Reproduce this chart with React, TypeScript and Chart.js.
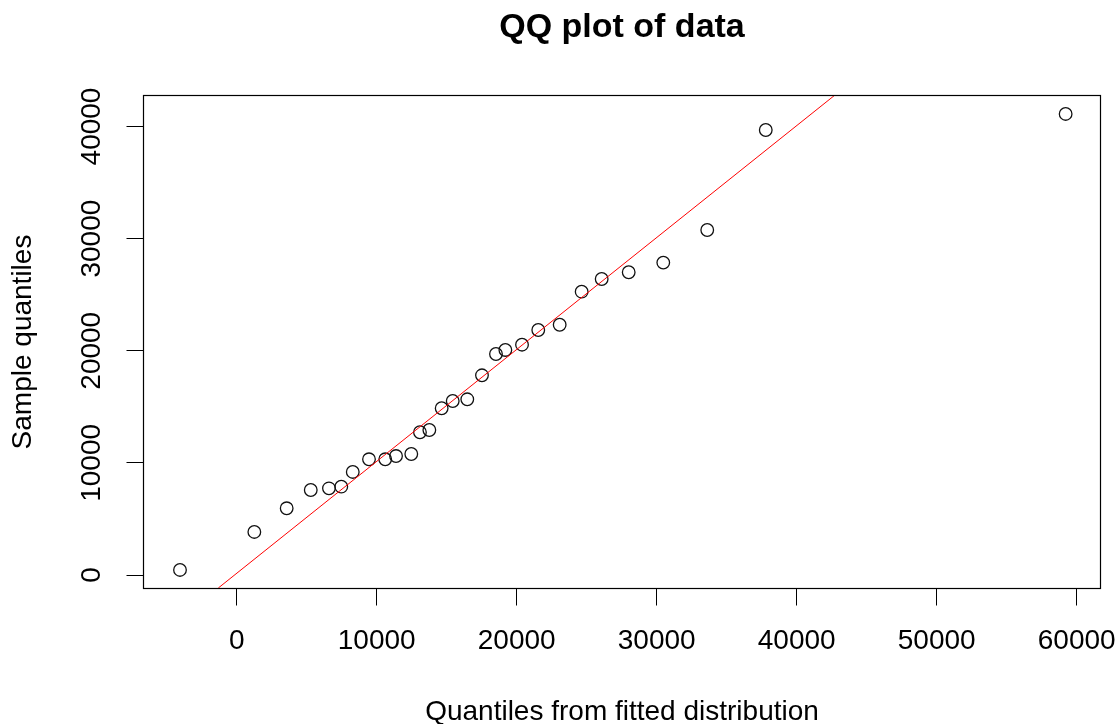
import React, { useEffect, useRef } from "react";
import { Chart, registerables } from "chart.js";

Chart.register(...registerables);

// Quantiles from fitted distribution (x) and sample quantiles (y)
const fittedQuantiles = [
  -4050, 1260, 3570, 5290, 6590, 7470, 8290, 9450, 10610, 11380, 12470, 13090,
  13760, 14640, 15430, 16470, 17520, 18520, 19190, 20380, 21540, 23070, 24640,
  26070, 28000, 30470, 33610, 37790, 59210,
];
const sampleQuantiles = [
  450, 3840, 5950, 7580, 7730, 7880, 9190, 10320, 10320, 10610, 10790, 12730,
  12930, 14870, 15520, 15670, 17810, 19710, 20070, 20540, 21850, 22320, 25270,
  26400, 27000, 27860, 30770, 39690, 41120,
];

// Reference (qq) line end points in data units
const qqLineX = [-1314, 42736];
const qqLineY = [-1160, 42810];

const xTickValues = [0, 10000, 20000, 30000, 40000, 50000, 60000];
const yTickValues = [0, 10000, 20000, 30000, 40000];

const titleText = "QQ plot of data";
const xTitle = "Quantiles from fitted distribution";
const yTitle = "Sample quantiles";

const FONT = "'Liberation Sans', Arial, Helvetica, sans-serif";

const rPlugin = {
  id: "rStyle",
  afterDraw(chart: any) {
    const { ctx, chartArea } = chart;
    const { left, top, right, bottom } = chartArea;
    ctx.save();
    // box
    ctx.strokeStyle = "#000";
    ctx.lineWidth = 1.2;
    ctx.strokeRect(left, top, right - left, bottom - top);
    // main title
    ctx.fillStyle = "#000";
    ctx.font = `bold 34px ${FONT}`;
    ctx.textAlign = "center";
    ctx.textBaseline = "middle";
    ctx.fillText(titleText, (left + right) / 2, 28);
    // x tick labels
    const xs = chart.scales.x;
    ctx.font = `28px ${FONT}`;
    for (const t of xs.ticks) {
      const px = xs.getPixelForValue(t.value);
      ctx.fillText(String(t.value), px, 641);
    }
    // y tick labels (rotated, R style)
    const ys = chart.scales.y;
    for (const t of ys.ticks) {
      const py = ys.getPixelForValue(t.value);
      ctx.save();
      ctx.translate(92, py);
      ctx.rotate(-Math.PI / 2);
      ctx.textAlign = "center";
      ctx.textBaseline = "middle";
      ctx.fillText(String(t.value), 0, 0);
      ctx.restore();
    }
    ctx.restore();
  },
};

export default function App() {
  const ref = useRef<HTMLCanvasElement | null>(null);
  useEffect(() => {
    if (!ref.current) return;
    const points = fittedQuantiles.map((x, i) => ({ x, y: sampleQuantiles[i] }));
    const line = qqLineX.map((x, i) => ({ x, y: qqLineY[i] }));
    const chart = new Chart(ref.current, {
      type: "scatter",
      data: {
        datasets: [
          {
            type: "line",
            data: line,
            borderColor: "#ff0000",
            borderWidth: 1,
            pointRadius: 0,
            fill: false,
          } as any,
          {
            data: points,
            pointRadius: 6.3,
            pointBorderWidth: 1.3,
            pointBorderColor: "#111",
            pointBackgroundColor: "rgba(0,0,0,0)",
          },
        ],
      },
      plugins: [rPlugin],
      options: {
        animation: false,
        responsive: false,
        devicePixelRatio: 1,
        layout: { padding: { top: 95.5, right: 18.5, bottom: 0, left: 0 } },
        plugins: {
          legend: { display: false },
          tooltip: { enabled: false },
          title: { display: false },
        },
        scales: {
          x: {
            type: "linear",
            min: -6657,
            max: 61700,
            afterBuildTicks: (s: any) => {
              s.ticks = xTickValues.map((v) => ({ value: v }));
            },
            afterFit: (s: any) => {
              s.height = 135.5;
            },
            grid: {
              drawOnChartArea: false,
              drawTicks: true,
              tickLength: 17,
              tickColor: "#000",
              tickWidth: 1,
            },
            border: { display: false },
            ticks: { display: false },
            title: {
              display: true,
              text: xTitle,
              color: "#000",
              font: { family: FONT, size: 28, lineHeight: 1 },
              padding: { top: 0, bottom: -2 },
            },
          },
          y: {
            type: "linear",
            min: -1204,
            max: 42765,
            afterBuildTicks: (s: any) => {
              s.ticks = yTickValues.map((v) => ({ value: v }));
            },
            afterFit: (s: any) => {
              s.width = 143.5;
            },
            grid: {
              drawOnChartArea: false,
              drawTicks: true,
              tickLength: 17,
              tickColor: "#000",
              tickWidth: 1,
            },
            border: { display: false },
            ticks: { display: false },
            title: {
              display: true,
              text: yTitle,
              color: "#000",
              font: { family: FONT, size: 28, lineHeight: 1 },
              padding: { top: 9, bottom: 0 },
            },
          },
        },
      } as any,
    });
    return () => chart.destroy();
  }, []);
  return (
    <div style={{ position: "fixed", left: 0, top: 0, width: 1119, height: 724, background: "#fff" }}>
      <canvas ref={ref} width={1119} height={724} style={{ width: 1119, height: 724 }} />
    </div>
  );
}
